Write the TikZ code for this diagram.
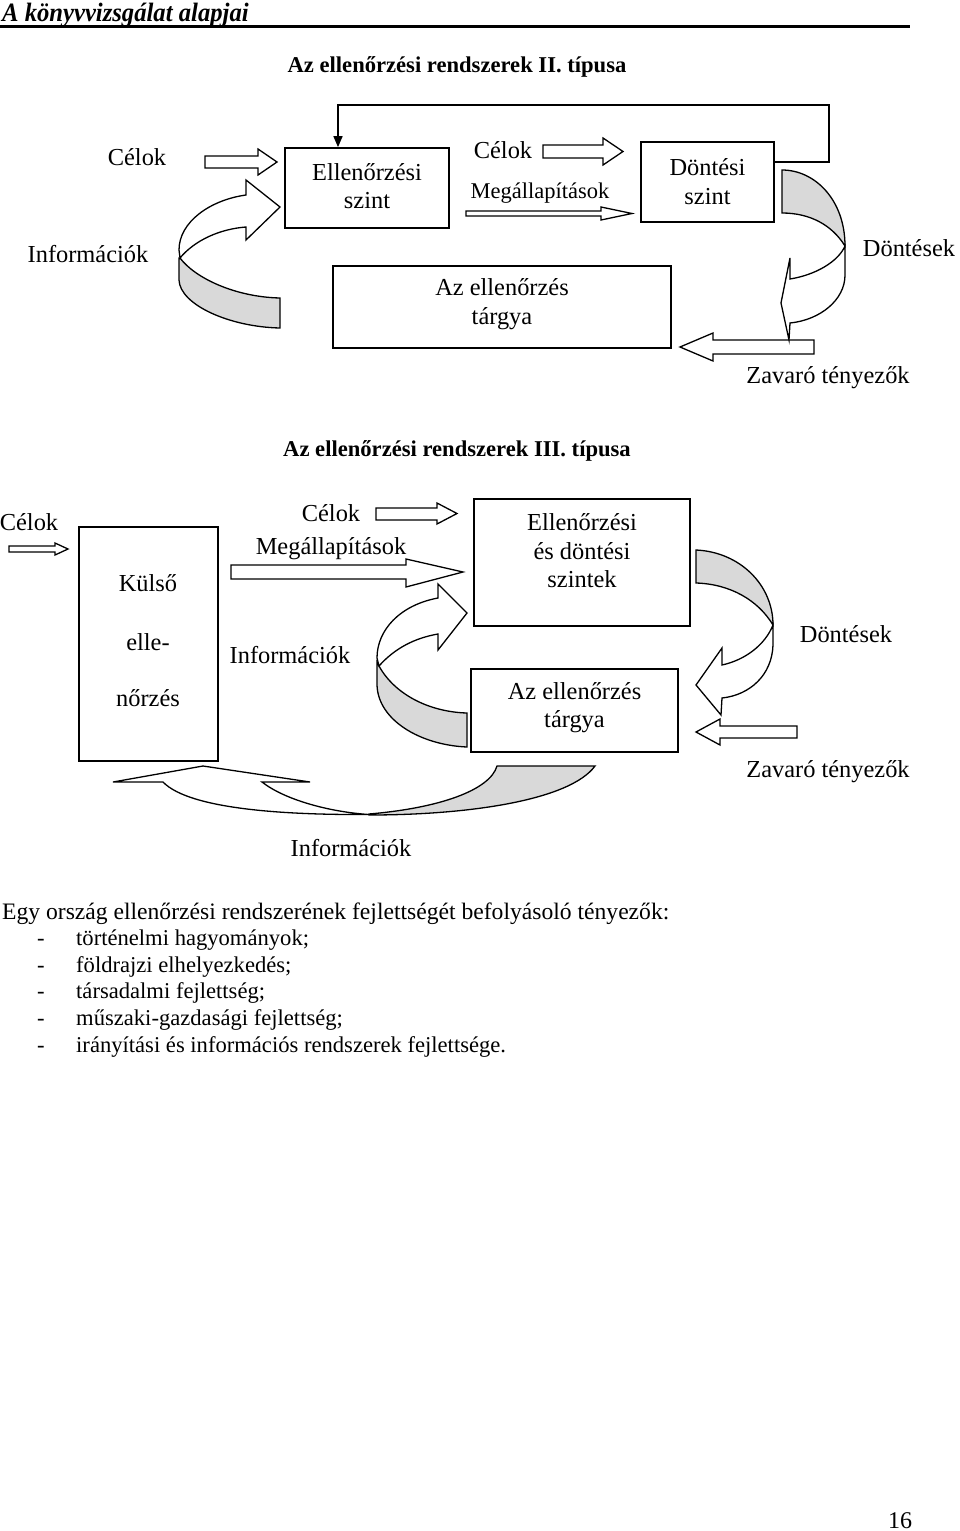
\documentclass[tikz,border=0pt]{standalone}
\usepackage{fontspec}
\setmainfont{Liberation Serif}
\usetikzlibrary{arrows.meta}
\definecolor{bandgray}{gray}{0.85}
\tikzset{
 box/.style={draw, line width=1.7pt, inner sep=0pt},
 lbl/.style={inner sep=0pt, font=\fontsize{24.4}{28.5}\selectfont, align=center},
 hollow/.style={draw, fill=white, line width=1.3pt, line join=miter},
 band/.style={draw, fill=bandgray, line width=1.3pt, line join=miter},
 front/.style={draw, fill=white, line width=1.3pt, line join=miter},
 listtxt/.style={anchor=base west, inner sep=0pt, font=\fontsize{22.6}{28}\selectfont},
}
\begin{document}
\begin{tikzpicture}[x=1pt,y=-1pt]
\useasboundingbox (0,0) rectangle (960,1531);

% ---------- header ----------
\node[anchor=base west, inner sep=0pt, font=\fontsize{26.5}{30}\selectfont\bfseries\itshape] (hdr) at (2,21) {\scalebox{0.93}[1]{A könyvvizsgálat alapjai}};
\coordinate (ulA) at (0,26.5);
\coordinate (ulB) at (910,26.5);
\draw[line width=2.4pt] (ulA) -- (ulB);

% ---------- type II ----------
\node[inner sep=0pt, font=\fontsize{22.6}{27}\selectfont\bfseries] (t2) at (457,67) {Az ellenőrzési rendszerek II. típusa};

\node[box, minimum width=164pt, minimum height=80pt] (ell) at (367,188) {};
\node[lbl] (ellt) at (367,186) {Ellenőrzési\\szint};
\node[box, minimum width=133pt, minimum height=80pt] (dont) at (707.5,182) {};
\node[lbl] (dontt) at (707.5,181.5) {Döntési\\szint};
\node[box, minimum width=338pt, minimum height=82pt] (targy) at (502,307) {};
\node[lbl] (targyt) at (502,304) {Az ellenőrzés\\tárgya};

\node[lbl] (c2a) at (137,157) {Célok};
\node[lbl] (i2a) at (88,254) {Információk};
\node[lbl] (c2b) at (503,150) {Célok};
\node[lbl, font=\fontsize{22.5}{27}\selectfont] (m2) at (540,193) {Megállapítások};
\node[lbl] (d2) at (909,248) {Döntések};
\node[lbl] (z2) at (828,378) {Zavaró tényezők};

% feedback frame
\coordinate (fA) at (829,162);
\coordinate (fB) at (829,105);
\coordinate (fC) at (338,105);
\draw[line width=1.6pt, -{Triangle[length=11pt,width=9pt]}] (dont.east |- fA) -- (fA) -- (fB) -- (fC) -- (fC |- ell.north);

% hollow arrows
\draw[hollow] (205,156) -- (258,156) -- (258,149) -- (277,162) -- (258,175) -- (258,168) -- (205,168) -- cycle;
\draw[hollow] (543,145) -- (603,145) -- (603,138) -- (623,151.5) -- (603,165) -- (603,158) -- (543,158) -- cycle;
\draw[hollow] (466,211) -- (601,211) -- (601,207) -- (632,213.5) -- (601,220) -- (601,216) -- (466,216) -- cycle;
\draw[hollow] (814,340) -- (713,340) -- (713,333) -- (680,347) -- (713,361) -- (713,354) -- (814,354) -- cycle;

% left curved arrow (Információk)
\draw[band] (180,258) .. controls (195,278) and (235,297) .. (280,298) -- (280,328) .. controls (230,327) and (180,305) .. (179,280) -- (179,258) -- cycle;
\draw[front] (280,207) -- (246,180) -- (246,195) .. controls (210,200) and (179,222) .. (179,250) -- (180,258) .. controls (195,240) and (220,229) .. (246,227) -- (246,240) -- cycle;

% right curved arrow (Döntések)
\draw[band] (782,170) .. controls (815,170) and (845,200) .. (845,246) .. controls (832,225) and (810,213) .. (782,213) -- cycle;
\draw[front] (845,246) -- (845,275) .. controls (845,300) and (820,320) .. (790,323) -- (789,340) -- (781,303) -- (790,258) -- (790,279) .. controls (815,275) and (838,262) .. (845,246) -- cycle;

% ---------- type III ----------
\node[inner sep=0pt, font=\fontsize{22.6}{27}\selectfont\bfseries] (t3) at (457,451) {Az ellenőrzési rendszerek III. típusa};

\node[box, minimum width=139pt, minimum height=234pt] (kulso) at (148.5,644) {};
\node[lbl] (k1) at (148,583) {Külső};
\node[lbl] (k2) at (148,642) {elle-};
\node[lbl] (k3) at (148,698) {nőrzés};
\node[box, minimum width=216pt, minimum height=127pt] (eds) at (582,562.5) {};
\node[lbl] (edst) at (582,551) {Ellenőrzési\\és döntési\\szintek};
\node[box, minimum width=207pt, minimum height=83pt] (targy3) at (574.5,710.5) {};
\node[lbl] (targy3t) at (574.5,707.5) {Az ellenőrzés\\tárgya};

\node[lbl] (c3a) at (29,522) {Célok};
\node[lbl] (c3b) at (331,513) {Célok};
\node[lbl] (m3) at (331,549) {Megállapítások};
\node[lbl] (i3a) at (290,655) {Információk};
\node[lbl] (d3) at (846,634) {Döntések};
\node[lbl] (z3) at (828,772) {Zavaró tényezők};
\node[lbl] (i3b) at (351,848) {Információk};

% hollow arrows
\draw[hollow] (9,546) -- (55,546) -- (55,543) -- (68,549) -- (55,555) -- (55,552) -- (9,552) -- cycle;
\draw[hollow] (376,508) -- (437,508) -- (437,503) -- (457,513.5) -- (437,524) -- (437,520) -- (376,520) -- cycle;
\draw[hollow] (231,565) -- (406,565) -- (406,559) -- (463,572) -- (406,587) -- (406,579) -- (231,579) -- cycle;
\draw[hollow] (797,726) -- (720,726) -- (720,719) -- (696,732) -- (720,745) -- (720,738) -- (797,738) -- cycle;

% left curved arrow (Információk)
\draw[band] (379,666) .. controls (395,695) and (430,712) .. (467,713) -- (467,747) .. controls (420,745) and (378,720) .. (377,685) -- (377,662) -- cycle;
\draw[front] (467,613) -- (438,584) -- (438,598) .. controls (400,605) and (377,630) .. (377,658) -- (379,666) .. controls (395,648) and (415,638) .. (438,634) -- (438,650) -- cycle;

% right curved arrow (Döntések)
\draw[band] (696,550) .. controls (740,552) and (773,585) .. (773,625) .. controls (758,600) and (730,584) .. (696,583) -- cycle;
\draw[front] (773,625) -- (773,645) .. controls (772,675) and (750,695) .. (722,698) -- (721,715) -- (696,685) -- (722,648) -- (722,665) .. controls (745,660) and (765,645) .. (773,625) -- cycle;

% bottom curved arrow (Információk)
\draw[band] (369,814) .. controls (440,808) and (490,790) .. (497,766) -- (595,766) .. controls (570,800) and (470,815) .. (369,815) -- cycle;
\draw[front] (203,766) -- (113,782) -- (163,782) .. controls (190,810) and (290,815) .. (369,814.5) .. controls (330,812) and (285,800) .. (262,782) -- (310,782) -- cycle;

% ---------- list ----------
\node[anchor=base west, inner sep=0pt, font=\fontsize{23.6}{29}\selectfont] (l0) at (2,919) {Egy ország ellenőrzési rendszerének fejlettségét befolyásoló tényezők:};
\foreach \yy/\tt [count=\i] in {945/történelmi hagyományok;, 972/földrajzi elhelyezkedés;, 998/társadalmi fejlettség;, 1025/műszaki-gazdasági fejlettség;, 1052/irányítási és információs rendszerek fejlettsége.}{
  \node[listtxt] (d\i) at (37,\yy) {-};
  \node[listtxt] (l\i) at (76,\yy) {\tt};
}

\node[inner sep=0pt, font=\fontsize{24}{29}\selectfont] (pg) at (900,1521) {16};
\end{tikzpicture}
\end{document}
